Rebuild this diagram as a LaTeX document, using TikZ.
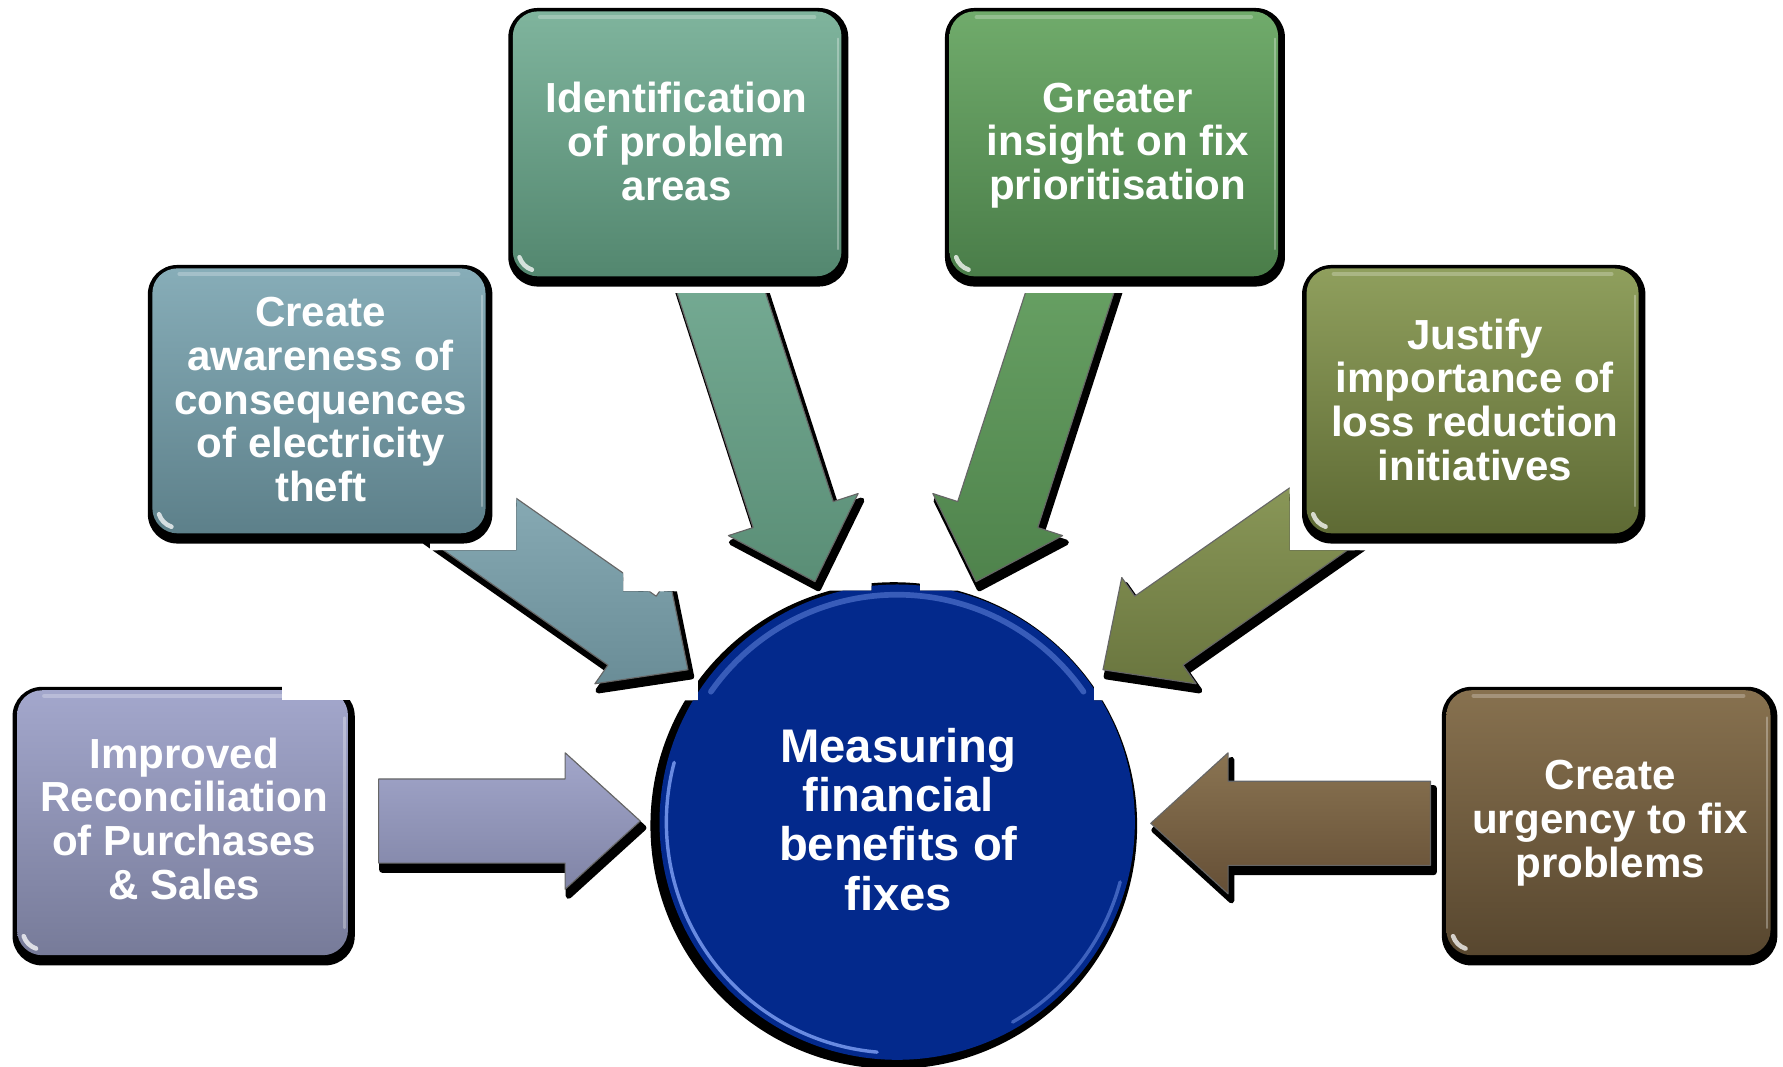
\documentclass[tikz,border=0pt]{standalone}
\usepackage{fontspec}
\setmainfont{Liberation Sans}
\usetikzlibrary{calc}
\definecolor{b1t}{HTML}{A3A7CC}\definecolor{b1b}{HTML}{777B99}
\definecolor{b2t}{HTML}{87ADB8}\definecolor{b2b}{HTML}{5D808A}
\definecolor{b3t}{HTML}{7FB49D}\definecolor{b3b}{HTML}{53876F}
\definecolor{b4t}{HTML}{70AB6B}\definecolor{b4b}{HTML}{4A7D49}
\definecolor{b5t}{HTML}{8F9F5D}\definecolor{b5b}{HTML}{5E6A34}
\definecolor{b6t}{HTML}{87714F}\definecolor{b6b}{HTML}{58472F}
\definecolor{a1t}{HTML}{A2A6CA}\definecolor{a1b}{HTML}{8084A6}
\definecolor{a2t}{HTML}{8BAEB8}\definecolor{a2b}{HTML}{6A8D97}
\definecolor{a3t}{HTML}{7AB099}\definecolor{a3b}{HTML}{5A8E76}
\definecolor{a4t}{HTML}{6CA668}\definecolor{a4b}{HTML}{4F834C}
\definecolor{a5t}{HTML}{8C9A5A}\definecolor{a5b}{HTML}{6A763F}
\definecolor{a6t}{HTML}{8A7452}\definecolor{a6b}{HTML}{654F36}
\definecolor{cblue}{HTML}{03298C}
\definecolor{rim}{HTML}{7A9BF0}
\tikzset{
  boxtext/.style={text=white, font=\fontsize{37}{38.5}\selectfont\bfseries, align=center, inner sep=0pt},
  circtext/.style={text=white, font=\fontsize{41.5}{43.3}\selectfont\bfseries, align=center, inner sep=0pt},
  toplight/.style={white, opacity=.25, line width=4, line cap=round},
  sidelight/.style={white, opacity=.3, line width=2, line cap=round},
  glint/.style={white, opacity=.75, line width=4, line cap=round},
  arrowedge/.style={black!60, line width=1, line join=round},
  rimlight/.style={rim, line width=3, line cap=round},
}
\newcommand\glbox[6]{%
  \pgfmathsetmacro\gax{#1+4}\pgfmathsetmacro\gay{#2+3}%
  \pgfmathsetmacro\gbx{#3-6}\pgfmathsetmacro\gby{#4-9}%
  \fill[black, rounded corners=26] (#1,#2) rectangle (#3,#4);
  \shade[top color=#5, bottom color=#6, rounded corners=22] (\gax,\gay) rectangle (\gbx,\gby);
  \draw[toplight] (\gax+24,\gay+5) -- (\gbx-24,\gay+5);
  \draw[sidelight] (\gbx-3,\gay+24) -- (\gbx-3,\gby-24);
  \draw[glint] ([shift={(162:17)}]\gax+22,\gby-22) arc[start angle=162, end angle=108, radius=17];
}
\newcommand\blockarrow[7]{%
  \path ($(#2)!#5!(#1)$) coordinate (hb);
  \path ($(#1)!#3!90:(#2)$) coordinate (q1) ($(hb)!#3!90:(#2)$) coordinate (q2)
        ($(hb)!#4!90:(#2)$) coordinate (q3) ($(hb)!#4!-90:(#2)$) coordinate (q5)
        ($(hb)!#3!-90:(#2)$) coordinate (q6) ($(#1)!#3!-90:(#2)$) coordinate (q7);
  \begin{scope}[transform canvas={xshift=3pt,yshift=-6pt}]
    \filldraw[black, line width=5, line join=round] (q1) -- (q2) -- (q3) -- (#2) -- (q5) -- (q6) -- (q7) -- cycle;
  \end{scope}
  \shade[top color=#6, bottom color=#7] (q1) -- (q2) -- (q3) -- (#2) -- (q5) -- (q6) -- (q7) -- cycle;
  \draw[arrowedge] (q1) -- (q2) -- (q3) -- (#2) -- (q5) -- (q6) -- (q7) -- cycle;
}
\begin{document}
\begin{tikzpicture}[x=1pt,y=-1pt]
\useasboundingbox (0,0) rectangle (1568,938);
\fill[white] (0,0) rectangle (1568,938);
% centre circle
\coordinate (cc) at (789,723);
\begin{scope}
  \clip (614,519.5) -- (766.6,519.5) -- (766.6,512) -- (809,512) -- (809,519.5) -- (962,519.5)
        -- (962,616) -- (1100,616) -- (1100,950) -- (500,950) -- (500,616) -- (614,616) -- cycle;
  \fill[black] (786,726) circle (214);
  \fill[cblue] (cc) circle (209);
  \draw[rimlight, opacity=.85] ([shift={(95:203)}]cc) arc[start angle=95, end angle=195, radius=203];
  \draw[rimlight, opacity=.5] ([shift={(15:203)}]cc) arc[start angle=15, end angle=60, radius=203];
  \draw[rimlight, opacity=.45, line width=5] ([shift={(215:200)}]cc) arc[start angle=215, end angle=325, radius=200];
\end{scope}
\node[circtext] (nCenter) at (790,720.5) {Measuring\\financial\\benefits of\\fixes};
% connectors
\coordinate (tailL) at (333,722); \coordinate (tipL) at (563,722);
\coordinate (tailR) at (1258,724); \coordinate (tipR) at (1012,724);
\coordinate (tailA) at (392,440); \coordinate (tipA) at (605,589);
\coordinate (tailJ) at (1183,440); \coordinate (tipJ) at (970,589);
\coordinate (tailI) at (615.7,200); \coordinate (tipI) at (716.7,511.5);
\coordinate (tailG) at (959.3,200); \coordinate (tipG) at (858.3,511.5);
\blockarrow{tailL}{tipL}{37pt}{60pt}{66pt}{a1t}{a1b}
\blockarrow{tailR}{tipR}{37pt}{62pt}{68pt}{a6t}{a6b}
\begin{scope}
  \clip (0,0) -- (378,0) -- (378,484) -- (454,484) -- (454,0) -- (548,0) -- (548,520) -- (642,520)
        -- (642,0) -- (1568,0) -- (1568,938) -- (0,938) -- cycle;
  \blockarrow{tailA}{tipA}{37pt}{57pt}{60pt}{a2t}{a2b}
\end{scope}
\begin{scope}
  \clip (0,0) -- (1134,0) -- (1134,484) -- (1214,484) -- (1214,0) -- (1568,0) -- (1568,938) -- (0,938) -- cycle;
  \blockarrow{tailJ}{tipJ}{37pt}{57pt}{60pt}{a5t}{a5b}
\end{scope}
\begin{scope}
  \clip (0,258) rectangle (1568,938);
  \blockarrow{tailI}{tipI}{37pt}{60pt}{62pt}{a3t}{a3b}
  \blockarrow{tailG}{tipG}{37pt}{60pt}{62pt}{a4t}{a4b}
\end{scope}
% boxes
\glbox{11}{604}{312}{849}{b1t}{b1b}
\fill[white] (248,597) rectangle (314,616);
\glbox{130}{233}{433}{478}{b2t}{b2b}
\glbox{447}{7}{746}{252}{b3t}{b3b}
\glbox{831}{7}{1130}{252}{b4t}{b4b}
\glbox{1145}{233}{1447}{478}{b5t}{b5b}
\glbox{1268}{604}{1563}{849}{b6t}{b6b}
\node[boxtext] (nImp) at (162,720) {Improved\\Reconciliation\\of Purchases\\\& Sales};
\node[boxtext] (nAware) at (282,351.5) {Create\\awareness of\\consequences\\of electricity\\theft};
\node[boxtext] (nIdent) at (595,124.5) {Identification\\of problem\\areas};
\node[boxtext] (nGreater) at (983,128) {Greater\\insight on fix\\prioritisation};
\node[boxtext] (nJustify) at (1297,351.5) {Justify\\importance of\\loss reduction\\initiatives};
\node[boxtext] (nUrgency) at (1416,724) {Create\\urgency to fix\\problems};
\end{tikzpicture}
\end{document}
